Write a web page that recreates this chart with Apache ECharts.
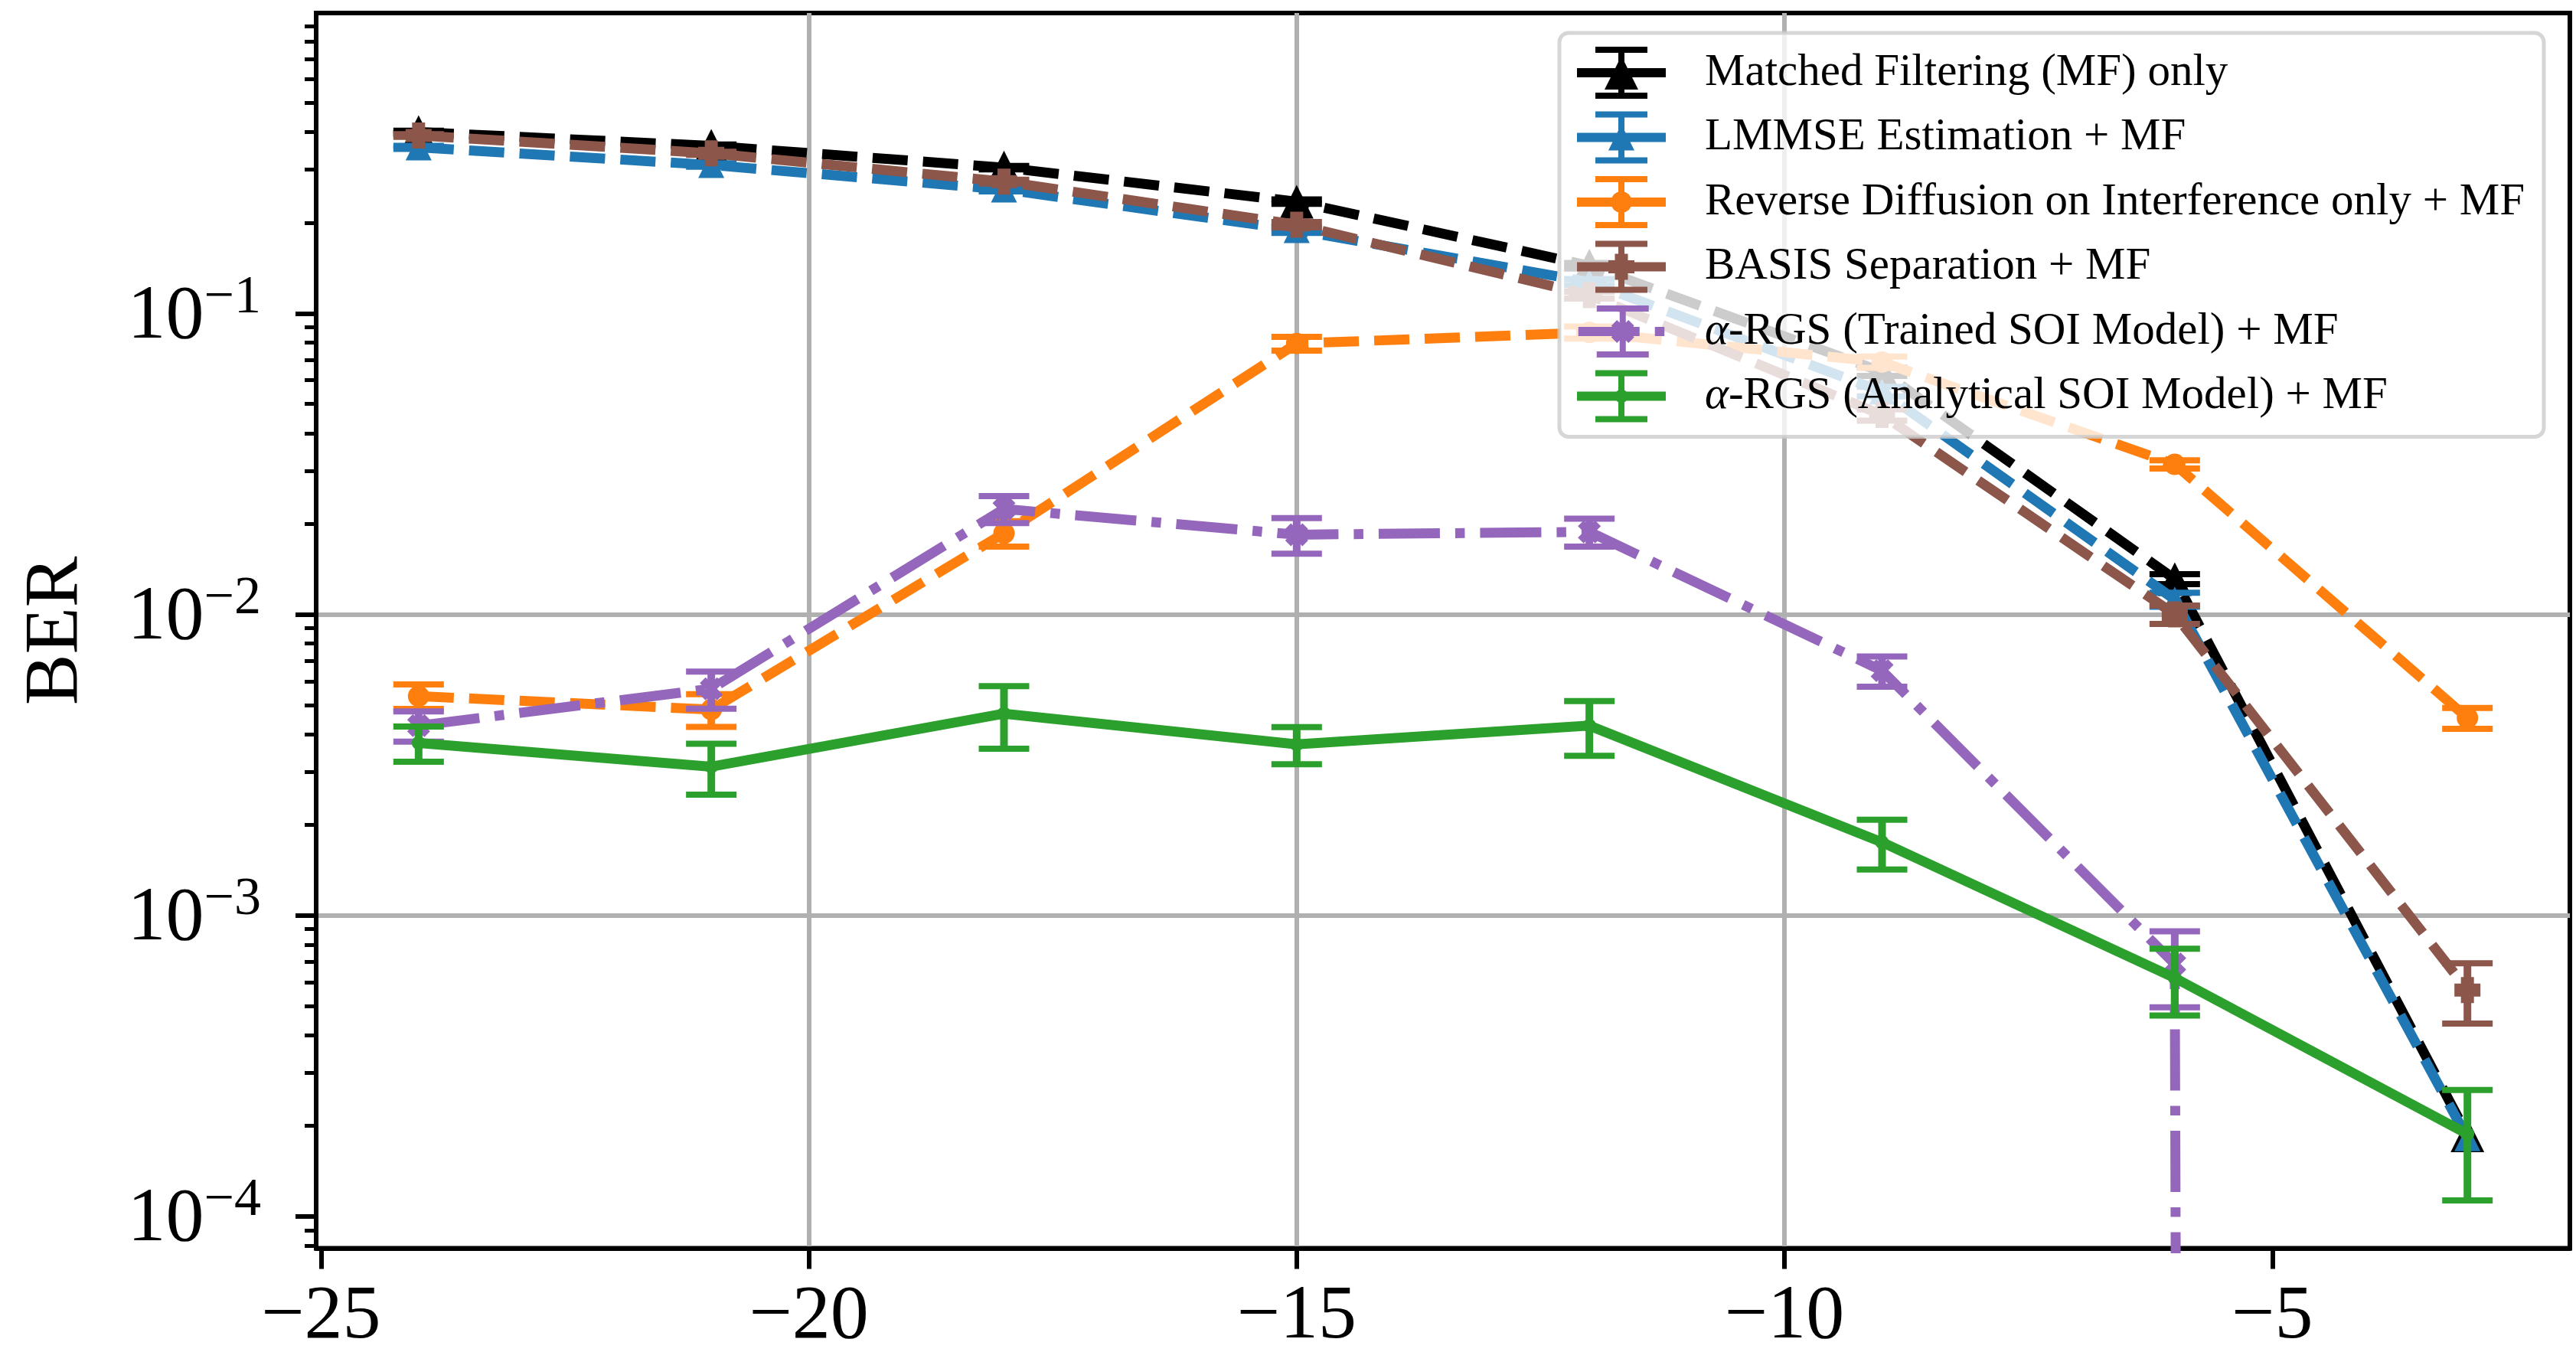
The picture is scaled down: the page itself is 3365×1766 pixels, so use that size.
<!DOCTYPE html>
<html>
<head>
<meta charset="utf-8">
<script src="https://cdn.jsdelivr.net/npm/echarts@6/dist/echarts.min.js"></script>
<style>
html,body{margin:0;padding:0;background:#ffffff;}
#chart{width:3365px;height:1766px;}
</style>
</head>
<body>
<div id="chart"></div>
<script>
// ---------------- data ----------------
const snr = [-24, -21, -18, -15, -12, -9, -6, -3];

const seriesNames = [
  'Matched Filtering (MF) only',
  'LMMSE Estimation + MF',
  'Reverse Diffusion on Interference only + MF',
  'BASIS Separation + MF',
  'α-RGS (Trained SOI Model) + MF',
  'α-RGS (Analytical SOI Model) + MF'
];

const berMF          = [0.400, 0.360, 0.305, 0.235, 0.144, 0.064, 0.0131, 1.86e-4];
const errMF          = [0.004, 0.004, 0.004, 0.004, 0.003, 0.002, 0.0005, 0];
const berLMMSE       = [0.356, 0.311, 0.258, 0.189, 0.127, 0.055, 0.0112, 1.82e-4];
const errLMMSE       = [0.004, 0.004, 0.004, 0.004, 0.003, 0.002, 0.0006, 0];
const berRevDiff     = [0.00535, 0.00483, 0.0186, 0.0794, 0.0864, 0.0689, 0.0315, 0.00453];
const errRevDiff     = [0.0005, 0.0006, 0.0018, 0.0042, 0.004, 0.003, 0.001, 0.00036];
const berBASIS       = [0.390, 0.340, 0.274, 0.197, 0.115, 0.046, 0.0100, 5.65e-4];
const errBASIS       = [0.004, 0.004, 0.004, 0.004, 0.003, 0.002, 0.0007, 1.28e-4];
const berTrained     = [0.00427, 0.00566, 0.0224, 0.0184, 0.0188, 0.0065, 6.9e-4, 0];
const errTrained     = [0.00049, 0.0008, 0.0023, 0.0025, 0.002, 0.00075, 1.95e-4, 0];
const berAnalytical  = [0.00374, 0.00312, 0.00468, 0.0037, 0.00427, 0.00175, 6.2e-4, 1.88e-4];
const errAnalytical  = [0.0005, 0.0006, 0.0011, 0.00052, 0.00088, 0.00033, 1.55e-4, 7.5e-5];

const xTicks = [-25, -20, -15, -10, -5];
const yMajorTicks = [1e-4, 1e-3, 1e-2, 1e-1];
const yMinorTicks = [8e-5, 9e-5,
  2e-4, 3e-4, 4e-4, 5e-4, 6e-4, 7e-4, 8e-4, 9e-4,
  2e-3, 3e-3, 4e-3, 5e-3, 6e-3, 7e-3, 8e-3, 9e-3,
  2e-2, 3e-2, 4e-2, 5e-2, 6e-2, 7e-2, 8e-2, 9e-2,
  0.2, 0.3, 0.4, 0.5, 0.6, 0.7, 0.8, 0.9];

// ---------------- styling ----------------
const X_MIN = -25.05, X_MAX = -1.95;
const Y_MIN = 7.84e-5, Y_MAX = 0.9947;
const LOG_FLOOR = 1e-300;      // non-positive values are clipped like a log plot does
const LW = 13;                 // series line width
const ELW = 10;                // error-bar line width
const CAPW = 8;                // cap thickness
const CAP_HALF = 33;           // cap half width
const FONT = 'Liberation Serif';

const colors = ['#000000', '#1f77b4', '#ff7f0e', '#8c564b', '#9467bd', '#2ca02c'];
const dashes = [[46, 20], [46, 20], [46, 20], [46, 20], [80, 20, 12.5, 20], 'solid'];
const symbols = [
  'triangle',
  'triangle',
  'circle',
  'path://M1,0H3V1H4V3H3V4H1V3H0V1H1Z',
  'path://M1,0L2,1L3,0L4,1L3,2L4,3L3,4L2,3L1,4L0,3L1,2L0,1Z',
  'circle'
];
const symbolSizes = [44, 34, 28, 34, 30, 18];
const values = [berMF, berLMMSE, berRevDiff, berBASIS, berTrained, berAnalytical];
const errors = [errMF, errLMMSE, errRevDiff, errBASIS, errTrained, errAnalytical];

// legend handle icons (line + error bar + marker), in a 116 x 68 box
function markerPath(kind, s) {
  const cx = 58, cy = 34, h = s / 2;
  if (kind === 'triangle') return `M${cx},${cy-h}L${cx+h},${cy+h}L${cx-h},${cy+h}Z`;
  if (kind === 'plus') { const a = h / 2;
    return `M${cx-a},${cy-h}H${cx+a}V${cy-a}H${cx+h}V${cy+a}H${cx+a}V${cy+h}H${cx-a}V${cy+a}H${cx-h}V${cy-a}H${cx-a}Z`; }
  if (kind === 'x') { const q = h / 2;
    return `M${cx-q},${cy-h}L${cx},${cy-q}L${cx+q},${cy-h}L${cx+h},${cy-q}L${cx+q},${cy}L${cx+h},${cy+q}L${cx+q},${cy+h}L${cx},${cy+q}L${cx-q},${cy+h}L${cx-h},${cy+q}L${cx-q},${cy}L${cx-h},${cy-q}Z`; }
  let p = '';
  for (let k = 0; k < 16; k++) {
    const t = -Math.PI / 2 + k * Math.PI / 8;
    p += (k ? 'L' : 'M') + (cx + h * Math.cos(t)).toFixed(2) + ',' + (cy + h * Math.sin(t)).toFixed(2);
  }
  return p + 'Z';
}
const markerKinds = ['triangle', 'triangle', 'circle', 'plus', 'x', 'circle'];
function legendIcon(i) {
  let line = 'M0,28H116V40H0Z';
  if (i === 4) line = 'M0,28H80V40H0Z M100,28H112.5V40H100Z';
  const bar = 'M54,0H62V68H54Z M24,0H92V8H24Z M24,60H92V68H24Z';
  return 'path://' + line + ' ' + bar + ' ' + markerPath(markerKinds[i], symbolSizes[i]);
}

function errRender(color) {
  return function (params, api) {
    const x = api.value(0), y = api.value(1), e = api.value(2);
    if (!(y > 0) || !(e > 0)) return null;
    const hi = api.coord([x, y + e]);
    const lowVal = y - e;
    const lo = lowVal > 0 ? api.coord([x, lowVal]) : null;
    const cs = params.coordSys;
    const yb = lo ? lo[1] : cs.y + cs.height;
    const children = [
      { type: 'line', shape: { x1: hi[0], y1: hi[1], x2: hi[0], y2: yb }, style: { stroke: color, lineWidth: ELW } },
      { type: 'line', shape: { x1: hi[0] - CAP_HALF, y1: hi[1], x2: hi[0] + CAP_HALF, y2: hi[1] }, style: { stroke: color, lineWidth: CAPW } }
    ];
    if (lo) children.push({ type: 'line', shape: { x1: lo[0] - CAP_HALF, y1: lo[1], x2: lo[0] + CAP_HALF, y2: lo[1] }, style: { stroke: color, lineWidth: CAPW } });
    return { type: 'group', children };
  };
}

const series = [];
seriesNames.forEach((name, i) => {
  series.push({
    type: 'custom',
    xAxisIndex: 0, yAxisIndex: 0,
    renderItem: errRender(colors[i]),
    dimensions: ['x', 'y', 'err'],
    encode: { x: 0, y: 1 },
    data: snr.map((x, k) => [x, values[i][k], errors[i][k]]),
    clip: true, silent: true, animation: false,
    z: 2 + i * 0.2
  });
  series.push({
    type: 'line',
    name: name,
    xAxisIndex: 0, yAxisIndex: 0,
    data: snr.map((x, k) => [x, values[i][k] > 0 ? values[i][k] : LOG_FLOOR]),
    symbol: symbols[i],
    symbolSize: symbolSizes[i],
    showSymbol: true, showAllSymbol: true,
    lineStyle: { color: colors[i], width: LW, type: dashes[i], cap: 'butt', join: 'round' },
    itemStyle: { color: colors[i], borderWidth: 0 },
    clip: true, silent: true, animation: false,
    z: 2.1 + i * 0.2
  });
});

const chart = echarts.init(document.getElementById('chart'), null, { renderer: 'canvas' });
chart.setOption({
  animation: false,
  backgroundColor: '#ffffff',
  grid: {
    left: 413, right: 8, top: 17, bottom: 135.5,
    show: true, borderColor: '#000', borderWidth: 6, backgroundColor: 'transparent',
    containLabel: false, outerBoundsMode: 'none'
  },
  xAxis: [{
    type: 'value', min: X_MIN, max: X_MAX, position: 'bottom',
    axisLine: { show: true, onZero: false, lineStyle: { color: '#000', width: 6 } },
    axisTick: { show: true, inside: false, length: 27, customValues: xTicks, lineStyle: { color: '#000', width: 6 } },
    axisLabel: {
      show: true, customValues: xTicks, margin: 40,
      fontSize: 100, fontFamily: FONT, color: '#000',
      formatter: v => String(v).replace('-', '\u2212')
    },
    splitLine: { show: true, showMinLine: false, showMaxLine: false, lineStyle: { color: '#b0b0b0', width: 6 } }
  }],
  yAxis: [{
    type: 'log', logBase: 10, min: Y_MIN, max: Y_MAX, position: 'left',
    name: 'BER', nameLocation: 'middle', nameGap: 289,
    nameTextStyle: { fontSize: 100, fontFamily: FONT, color: '#000' },
    axisLine: { show: true, onZero: false, lineStyle: { color: '#000', width: 6 } },
    axisTick: { show: true, inside: false, length: 27, customValues: yMajorTicks, lineStyle: { color: '#000', width: 6 } },
    axisLabel: {
      show: true, customValues: yMajorTicks, margin: 72,
      formatter: v => '{b|10}{s|\u2212' + Math.round(-Math.log10(v)) + '}',
      rich: {
        b: { fontSize: 100, fontFamily: FONT, color: '#000', lineHeight: 110, verticalAlign: 'bottom' },
        s: { fontSize: 70, fontFamily: FONT, color: '#000', lineHeight: 64, verticalAlign: 'top' }
      }
    },
    splitLine: { show: true, showMinLine: false, showMaxLine: false, lineStyle: { color: '#b0b0b0', width: 6 } }
  }, {
    type: 'log', logBase: 10, min: Y_MIN, max: Y_MAX, position: 'left', offset: 0,
    axisLine: { show: false },
    axisTick: { show: true, inside: false, length: 15, customValues: yMinorTicks, lineStyle: { color: '#000', width: 5 } },
    axisLabel: { show: false },
    splitLine: { show: false }
  }],
  legend: {
    show: true, orient: 'vertical', left: 2037, top: 43,
    padding: [18, 25, 19, 23], itemGap: 16.5, itemWidth: 116, itemHeight: 68,
    backgroundColor: 'rgba(255,255,255,0.8)', borderColor: 'rgba(204,204,204,0.8)',
    borderWidth: 5, borderRadius: 12, selectedMode: false, z: 100,
    textStyle: {
      fontSize: 59, fontFamily: FONT, color: '#000', padding: [0, 0, 0, 46],
      rich: { a: { fontSize: 59, fontFamily: FONT, fontStyle: 'italic', color: '#000' } }
    },
    formatter: name => name.replace('α', '{a|α}'),
    data: seriesNames.map((n, i) => ({ name: n, icon: legendIcon(i), itemStyle: { color: colors[i], borderWidth: 0 } }))
  },
  series: series
});
</script>
</body>
</html>
